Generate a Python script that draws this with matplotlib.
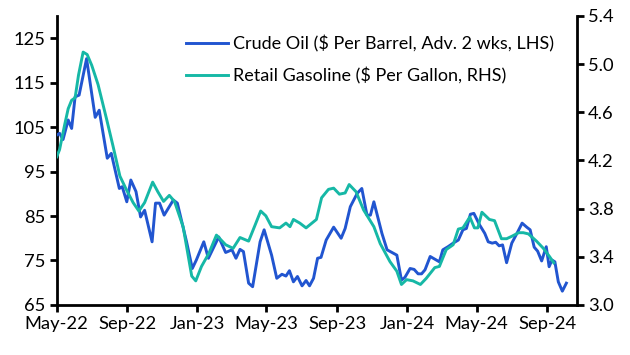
import pandas as pd
import matplotlib.pyplot as plt
import matplotlib.dates as mdates

# crude oil, $ per barrel, advanced 2 weeks (left axis)
oil_dates = [
    "2022-05-01", "2022-05-06", "2022-05-12", "2022-05-21", "2022-05-27", "2022-06-02",
    "2022-06-09", "2022-06-22", "2022-07-07", "2022-07-14", "2022-07-28", "2022-08-04",
    "2022-08-18", "2022-08-23", "2022-08-31", "2022-09-07", "2022-09-16", "2022-09-24",
    "2022-10-01", "2022-10-14", "2022-10-20", "2022-10-27", "2022-11-04", "2022-11-20",
    "2022-11-27", "2022-12-13", "2022-12-23", "2022-12-30", "2023-01-12", "2023-01-20",
    "2023-02-07", "2023-02-19", "2023-03-02", "2023-03-09", "2023-03-16", "2023-03-22",
    "2023-03-31", "2023-04-07", "2023-04-20", "2023-04-27", "2023-05-10", "2023-05-19",
    "2023-05-28", "2023-06-04", "2023-06-10", "2023-06-17", "2023-06-24", "2023-07-02",
    "2023-07-09", "2023-07-15", "2023-07-22", "2023-07-29", "2023-08-04", "2023-08-13",
    "2023-08-26", "2023-09-08", "2023-09-15", "2023-09-24", "2023-10-06", "2023-10-14",
    "2023-10-23", "2023-10-29", "2023-11-04", "2023-11-18", "2023-11-27", "2023-12-14",
    "2023-12-22", "2023-12-28", "2024-01-06", "2024-01-13", "2024-01-20", "2024-01-26",
    "2024-02-01", "2024-02-10", "2024-02-26", "2024-03-03", "2024-03-12", "2024-03-21",
    "2024-03-30", "2024-04-07", "2024-04-13", "2024-04-20", "2024-04-26", "2024-05-06",
    "2024-05-15", "2024-05-21", "2024-05-28", "2024-06-03", "2024-06-09", "2024-06-15",
    "2024-06-22", "2024-07-01", "2024-07-10", "2024-07-19", "2024-07-27", "2024-08-02",
    "2024-08-09", "2024-08-15", "2024-08-22", "2024-08-30", "2024-09-04", "2024-09-09",
    "2024-09-14", "2024-09-20", "2024-09-27", "2024-10-04",
]
oil_price = [
    103.2, 103.6, 102.2, 106.6, 104.7, 111.8,
    112.2, 120.4, 107.2, 108.8, 98.0, 99.1,
    91.2, 91.6, 88.2, 93.1, 90.5, 84.8,
    86.3, 79.2, 87.9, 87.9, 85.2, 88.6,
    87.9, 79.2, 73.2, 75.1, 79.2, 75.5,
    80.3, 76.8, 77.4, 75.5, 77.5, 77.0,
    69.9, 69.1, 79.2, 81.9, 76.2, 71.0,
    71.9, 71.5, 72.7, 70.2, 71.4, 69.3,
    70.5, 69.3, 71.0, 75.5, 75.7, 79.6,
    82.5, 80.0, 82.2, 87.1, 90.1, 91.2,
    85.2, 85.2, 88.2, 81.1, 77.4, 76.2,
    70.6, 71.2, 73.2, 73.0, 72.0, 72.0,
    72.9, 75.9, 74.7, 77.4, 78.1, 78.9,
    79.6, 81.9, 82.2, 85.4, 85.6, 83.0,
    81.1, 79.2, 78.9, 79.1, 78.3, 78.5,
    74.5, 78.9, 81.1, 83.4, 82.5, 81.9,
    78.0, 77.1, 74.9, 78.1, 73.6, 75.1,
    74.7, 70.2, 68.1, 69.9,
]

# retail gasoline, $ per gallon (right axis)
gas_dates = [
    "2022-05-01", "2022-05-06", "2022-05-15", "2022-05-21", "2022-05-27", "2022-06-02",
    "2022-06-08", "2022-06-16", "2022-06-23", "2022-07-01", "2022-07-12", "2022-07-27",
    "2022-08-07", "2022-08-19", "2022-08-30", "2022-09-11", "2022-09-21", "2022-10-01",
    "2022-10-15", "2022-10-24", "2022-11-03", "2022-11-13", "2022-11-22", "2022-12-07",
    "2022-12-22", "2022-12-29", "2023-01-08", "2023-01-21", "2023-02-03", "2023-02-19",
    "2023-03-04", "2023-03-16", "2023-03-31", "2023-04-11", "2023-04-21", "2023-04-30",
    "2023-05-10", "2023-05-24", "2023-06-04", "2023-06-11", "2023-06-17", "2023-06-28",
    "2023-07-09", "2023-07-27", "2023-08-05", "2023-08-17", "2023-08-26", "2023-09-05",
    "2023-09-15", "2023-09-22", "2023-10-04", "2023-10-17", "2023-11-04", "2023-11-15",
    "2023-12-02", "2023-12-14", "2023-12-22", "2023-12-31", "2024-01-11", "2024-01-24",
    "2024-02-03", "2024-02-18", "2024-02-26", "2024-03-09", "2024-03-21", "2024-03-30",
    "2024-04-07", "2024-04-19", "2024-04-27", "2024-05-03", "2024-05-10", "2024-05-23",
    "2024-06-01", "2024-06-13", "2024-06-22", "2024-07-01", "2024-07-13", "2024-07-21",
    "2024-07-30", "2024-08-13", "2024-08-25", "2024-09-05", "2024-09-12",
]
gas_price = [
    4.23, 4.29, 4.50, 4.63, 4.70, 4.72,
    4.91, 5.10, 5.08, 4.99, 4.83, 4.54,
    4.32, 4.07, 3.96, 3.85, 3.78, 3.85,
    4.02, 3.94, 3.86, 3.91, 3.86, 3.65,
    3.24, 3.20, 3.32, 3.43, 3.58, 3.50,
    3.47, 3.56, 3.53, 3.66, 3.78, 3.74,
    3.65, 3.64, 3.68, 3.65, 3.71, 3.68,
    3.64, 3.71, 3.89, 3.96, 3.97, 3.92,
    3.93, 4.00, 3.94, 3.79, 3.65, 3.51,
    3.36, 3.28, 3.17, 3.21, 3.20, 3.17,
    3.22, 3.31, 3.32, 3.46, 3.50, 3.63,
    3.64, 3.73, 3.64, 3.64, 3.77, 3.71,
    3.70, 3.55, 3.55, 3.57, 3.60, 3.60,
    3.59, 3.53, 3.47, 3.40, 3.35,
]

oil_x = pd.to_datetime(oil_dates)
gas_x = pd.to_datetime(gas_dates)

plt.rcParams['font.family'] = ['Lato', 'DejaVu Sans']

blue = "#2155d0"
teal = "#16b8a6"

fig = plt.figure(figsize=(6.3, 3.55), dpi=100)
ax = fig.add_axes([0.09, 0.141, 0.8254, 0.814])
ax2 = ax.twinx()

l1, = ax.plot(oil_x, oil_price, color=blue, lw=2.1, zorder=3)
l2, = ax2.plot(gas_x, gas_price, color=teal, lw=2.1)

ax.set_ylim(65, 130)
ax.set_yticks(range(65, 126, 10))
ax2.set_ylim(3.0, 5.4)
ax2.set_yticks([3.0, 3.4, 3.8, 4.2, 4.6, 5.0, 5.4])
ax2.yaxis.set_major_formatter(plt.FormatStrFormatter('%.1f'))

ax.set_xlim(pd.Timestamp("2022-05-01"), pd.Timestamp("2024-10-22"))
ax.xaxis.set_major_locator(mdates.MonthLocator(bymonth=[1, 5, 9]))
ax.xaxis.set_major_formatter(mdates.DateFormatter('%b-%y'))

for a in (ax, ax2):
    a.spines['top'].set_visible(False)
    for s in ('left', 'right', 'bottom'):
        a.spines[s].set_linewidth(2.0)
    a.tick_params(width=2.0, length=5, labelsize=13.2, pad=3)
ax.spines['right'].set_visible(False)
ax2.spines['left'].set_visible(False)
ax2.spines['bottom'].set_visible(False)

ax.legend([l1, l2],
          ["Crude Oil ($ Per Barrel, Adv. 2 wks, LHS)", "Retail Gasoline ($ Per Gallon, RHS)"],
          loc='upper left', bbox_to_anchor=(0.218, 0.99), frameon=False,
          handlelength=2.3, handletextpad=0.3, labelspacing=0.85, fontsize=13)

fig.savefig("out.png", dpi=100)
